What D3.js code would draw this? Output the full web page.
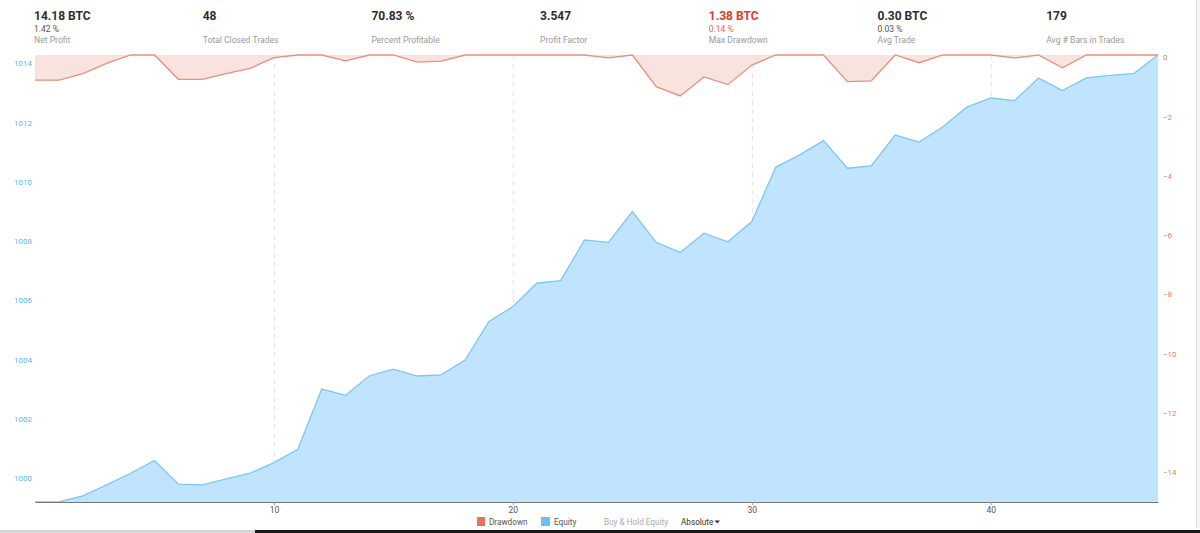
<!DOCTYPE html>
<html><head><meta charset="utf-8">
<script src="https://cdn.jsdelivr.net/npm/d3@7"></script>
<style>
html,body{margin:0;padding:0;background:#fff;}
svg{display:block;font-family:Roboto,"Open Sans",sans-serif;}
</style></head>
<body><svg id="c" width="1200" height="533"></svg>
<script>
// ---- data ----
const tradeIndex = d3.range(0, 48);
const equity = [999.12, 999.12, 999.33, 999.70, 1000.09, 1000.52, 999.72, 999.70, 999.90, 1000.09,
  1000.45, 1000.90, 1002.93, 1002.72, 1003.38, 1003.60, 1003.37, 1003.41, 1003.91, 1005.21,
  1005.71, 1006.50, 1006.59, 1007.96, 1007.88, 1008.92, 1007.88, 1007.54, 1008.19, 1007.90,
  1008.58, 1010.41, 1010.83, 1011.31, 1010.38, 1010.46, 1011.50, 1011.26, 1011.78, 1012.44,
  1012.75, 1012.66, 1013.42, 1013.00, 1013.43, 1013.51, 1013.58, 1014.20];
const drawdown = [-0.85, -0.85, -0.63, -0.28, 0, 0, -0.82, -0.82, -0.63, -0.45,
  -0.09, 0, 0, -0.20, 0, 0, -0.24, -0.21, 0, 0,
  0, 0, 0, 0, -0.10, 0, -1.07, -1.38, -0.74, -1.00,
  -0.34, 0, 0, 0, -0.90, -0.87, 0, -0.26, 0, 0,
  0, -0.10, 0, -0.43, 0, 0, 0, 0];
const xTicks = [10, 20, 30, 40];
const equityTicks = [1000, 1002, 1004, 1006, 1008, 1010, 1012, 1014];
const drawdownTicks = [0, -2, -4, -6, -8, -10, -12, -14];
const statValues = ["14.18 BTC", "48", "70.83 %", "3.547", "1.38 BTC", "0.30 BTC", "179"];
const statSubs = ["1.42 %", "", "", "", "0.14 %", "0.03 %", ""];
const statLabels = ["Net Profit", "Total Closed Trades", "Percent Profitable", "Profit Factor", "Max Drawdown", "Avg Trade", "Avg # Bars in Trades"];
const legendItems = ["Drawdown", "Equity", "Buy & Hold Equity", "Absolute"];

// ---- layout ----
const svg = d3.select("#c");
const L = 35, R = 1158, T = 55, B = 502;
const x = d3.scaleLinear().domain([0, 47]).range([L, R]);
const yE = d3.scaleLinear().domain([999.12, 1014.20]).range([B, T]);
const yD = d3.scaleLinear().domain([-15.08, 0]).range([B, T]);

// page edge artifacts
svg.append("rect").attr("x", 1196).attr("y", 0).attr("width", 4).attr("height", 528).attr("fill", "#f4f4f4");
svg.append("line").attr("x1", 1196.5).attr("x2", 1196.5).attr("y1", 0).attr("y2", 528).attr("stroke", "#e2e2e2");
svg.append("rect").attr("x", 0).attr("y", 530).attr("width", 255).attr("height", 3).attr("fill", "#d6d6d6");
svg.append("rect").attr("x", 255).attr("y", 530).attr("width", 945).attr("height", 3).attr("fill", "#1a1a1a");

// header stats
const colX = d3.range(7).map(i => 34 + i * 168.7);
const hdr = svg.append("g");
statValues.forEach((v, i) => {
  const red = i === 4;
  hdr.append("text").attr("x", colX[i]).attr("y", 19.5).text(v)
    .attr("font-size", 12).attr("font-weight", 700).attr("fill", red ? "#e03a2a" : "#2e2e2e");
  if (statSubs[i]) hdr.append("text").attr("x", colX[i]).attr("y", 31.5).text(statSubs[i])
    .attr("font-size", 8.5).attr("fill", red ? "#e8664e" : "#555");
  hdr.append("text").attr("x", colX[i]).attr("y", 42.5).text(statLabels[i])
    .attr("font-size", 8.6).attr("fill", "#9a9a9a");
});

// vertical grid
svg.append("g").selectAll("line").data(xTicks).join("line")
  .attr("x1", d => x(d) + 0.5).attr("x2", d => x(d) + 0.5).attr("y1", T).attr("y2", B)
  .attr("stroke", "#e3e3e3").attr("stroke-dasharray", "5,4");

// equity area
const eqArea = d3.area().x((d, i) => x(tradeIndex[i])).y0(B).y1(d => yE(d));
const eqLine = d3.line().x((d, i) => x(tradeIndex[i])).y(d => yE(d));
svg.append("path").datum(equity).attr("d", eqArea).attr("fill", "#c0e4fd");
svg.append("path").datum(equity).attr("d", eqLine).attr("fill", "none").attr("stroke", "#7cc6f6").attr("stroke-width", 1.3);

// drawdown area
const ddArea = d3.area().x((d, i) => x(tradeIndex[i])).y0(yD(0)).y1(d => yD(d));
const ddLine = d3.line().x((d, i) => x(tradeIndex[i])).y(d => yD(d));
svg.append("path").datum(drawdown).attr("d", ddArea).attr("fill", "#f9e3df");
svg.append("path").datum(drawdown).attr("d", ddLine).attr("fill", "none").attr("stroke", "#ea8f7b").attr("stroke-width", 1.3);

// x axis
const xAxis = svg.append("g").attr("transform", `translate(0,${B})`)
  .call(d3.axisBottom(x).tickValues(xTicks).tickSize(3).tickSizeOuter(0));
xAxis.select(".domain").attr("stroke", "#777").attr("stroke-width", 1.2);
xAxis.selectAll(".tick line").attr("stroke", "#999");
xAxis.selectAll("text").attr("font-size", 8.5).attr("fill", "#555").attr("dy", "0.75em").attr("y", 5)
  .attr("font-family", "Roboto,sans-serif");

// left axis
const lAxis = svg.append("g").attr("transform", `translate(${L},0)`)
  .call(d3.axisLeft(yE).tickValues(equityTicks).tickSize(0).tickFormat(d3.format("d")));
lAxis.select(".domain").remove();
lAxis.selectAll("text").attr("font-size", 8).attr("fill", "#5cb5f3").attr("x", -3).attr("dy", "0.6em")
  .attr("font-family", "Roboto,sans-serif");

// right axis
const rAxis = svg.append("g").attr("transform", `translate(${R},0)`)
  .call(d3.axisRight(yD).tickValues(drawdownTicks).tickSize(0).tickFormat(d3.format("d")));
rAxis.select(".domain").remove();
rAxis.selectAll("text").attr("font-size", 8).attr("fill", "#e57e66").attr("x", 5).attr("dy", "0.6em")
  .attr("font-family", "Roboto,sans-serif");

// legend
const lg = svg.append("g").attr("font-size", 8.2).attr("font-family", "Roboto,sans-serif");
lg.append("rect").attr("x", 477).attr("y", 517).attr("width", 8).attr("height", 9).attr("fill", "#e6735b");
lg.append("text").attr("x", 489).attr("y", 525).text(legendItems[0]).attr("fill", "#555");
lg.append("rect").attr("x", 541).attr("y", 517).attr("width", 9).attr("height", 9).attr("fill", "#6cbef5");
lg.append("text").attr("x", 554).attr("y", 525).text(legendItems[1]).attr("fill", "#555");
lg.append("text").attr("x", 604).attr("y", 525).text(legendItems[2]).attr("fill", "#aaa");
lg.append("text").attr("x", 681).attr("y", 525).text(legendItems[3]).attr("fill", "#333");
lg.append("path").attr("d", "M714.5,520.5 L720,520.5 L717.25,523.5 Z").attr("fill", "#333");
</script>
</body></html>
